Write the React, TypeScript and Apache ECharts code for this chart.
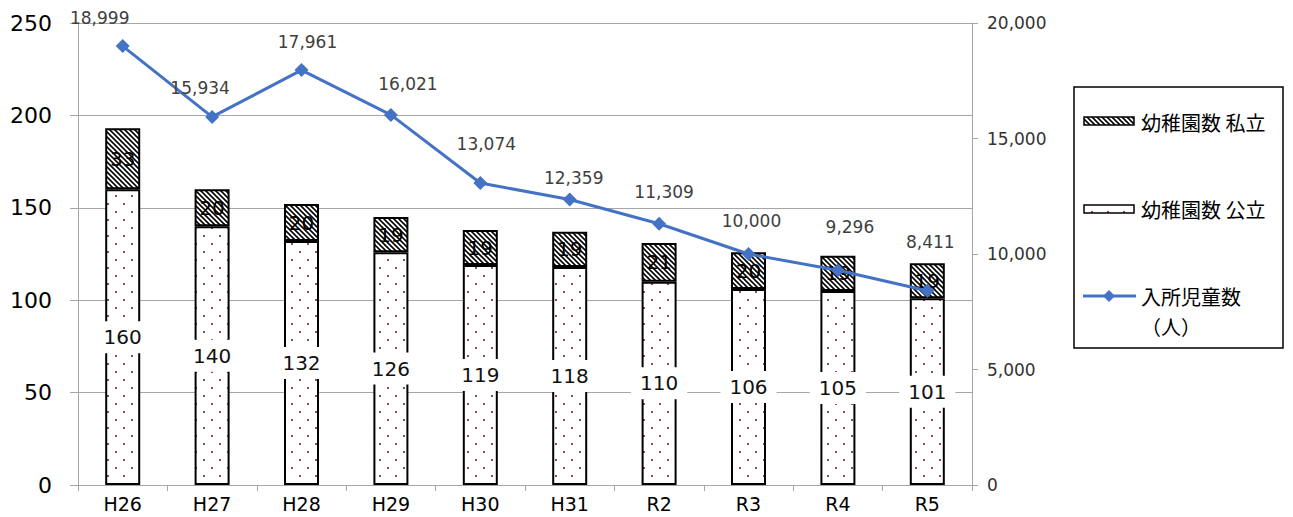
import React, { useEffect, useRef } from "react";
import * as echarts from "echarts";

const categories = ["H26", "H27", "H28", "H29", "H30", "H31", "R2", "R3", "R4", "R5"];
const publicCounts = [160, 140, 132, 126, 119, 118, 110, 106, 105, 101];
const privateCounts = [33, 20, 20, 19, 19, 19, 21, 20, 19, 19];
const childrenCounts = [18999, 15934, 17961, 16021, 13074, 12359, 11309, 10000, 9296, 8411];

// label nudges (px) for the line's value labels, as placed in the reference
const lineLabelNudges = [
  [-23, 0], [-12, 0], [6, 0], [17, -2], [6, -11], [4, 7], [5, -3], [3, -5], [12, -15], [3, -20],
];

const leftMax = 250;
const leftInterval = 50;
const rightMax = 20000;
const rightInterval = 5000;

const namePublic = "幼稚園数 公立";
const namePrivate = "幼稚園数 私立";
const nameChildren = "入所児童数（人）";
const legendChildrenLine1 = "入所児童数";
const legendChildrenLine2 = "（人）";

const FONT = '"DejaVu Sans", "Noto Sans CJK JP", sans-serif';
const CJK = '"Noto Sans CJK JP", "DejaVu Sans", sans-serif';
const BLUE = "#4472C4";
const GRID = "#A6A6A6";

function hatchPattern() {
  const s = 5;
  const c = document.createElement("canvas");
  c.width = s;
  c.height = s;
  const g = c.getContext("2d")!;
  g.fillStyle = "#fff";
  g.fillRect(0, 0, s, s);
  g.strokeStyle = "#000";
  g.lineWidth = 1.6;
  for (const off of [-s, 0, s]) {
    g.beginPath();
    g.moveTo(off - 1, -1);
    g.lineTo(off + s + 1, s + 1);
    g.stroke();
  }
  return { image: c.toDataURL(), repeat: "repeat", imageWidth: s, imageHeight: s };
}

function dotPattern() {
  const s = 16;
  const c = document.createElement("canvas");
  c.width = s;
  c.height = s;
  const g = c.getContext("2d")!;
  g.fillStyle = "#fff";
  g.fillRect(0, 0, s, s);
  g.fillStyle = "#A33A6E";
  g.fillRect(3, 3, 2, 2);
  g.fillRect(11, 11, 2, 2);
  return { image: c.toDataURL(), repeat: "repeat", imageWidth: s, imageHeight: s };
}

const fmt = (v: number) => v.toLocaleString("en-US");

export default function App() {
  const ref = useRef<HTMLDivElement>(null);
  useEffect(() => {
    if (!ref.current) return;
    const chart = echarts.init(ref.current, null, { renderer: "svg" });
    const hatch = hatchPattern();
    const dots = dotPattern();
    const legendText = (text: string, y: number) => ({
      type: "text",
      x: 1141,
      y,
      style: { text, font: `20px ${CJK}`, fill: "#000", verticalAlign: "middle", align: "left" },
      z: 11,
    });
    const option: any = {
      animation: false,
      backgroundColor: "#fff",
      grid: { left: 78, right: 321, top: 23, bottom: 32, containLabel: false, outerBoundsMode: "none" },
      xAxis: {
        type: "category",
        data: categories,
        axisLine: { show: true, lineStyle: { color: GRID, width: 1 } },
        axisTick: { show: true, length: 6, lineStyle: { color: GRID } },
        axisLabel: { fontSize: 19, color: "#000", margin: 9, fontFamily: FONT },
      },
      yAxis: [
        {
          type: "value",
          min: 0,
          max: leftMax,
          interval: leftInterval,
          position: "left",
          axisLine: { show: true, lineStyle: { color: GRID, width: 1 } },
          axisTick: { show: true, length: 8, lineStyle: { color: GRID } },
          splitLine: { show: true, lineStyle: { color: GRID, width: 1 } },
          axisLabel: { fontSize: 22, color: "#000", margin: 26, fontFamily: FONT },
        },
        {
          type: "value",
          min: 0,
          max: rightMax,
          interval: rightInterval,
          position: "right",
          axisLine: { show: true, lineStyle: { color: GRID, width: 1 } },
          axisTick: { show: true, length: 6, lineStyle: { color: GRID } },
          splitLine: { show: false },
          axisLabel: {
            fontSize: 17,
            color: "#333",
            margin: 15,
            fontFamily: FONT,
            formatter: (v: number) => fmt(v),
          },
        },
      ],
      series: [
        {
          name: namePublic,
          type: "bar",
          stack: "k",
          barWidth: 35,
          data: publicCounts,
          itemStyle: { color: dots, borderColor: "#000", borderWidth: 2 },
          label: {
            show: true,
            position: "inside",
            fontSize: 20,
            color: "#111",
            fontFamily: FONT,
            backgroundColor: "#fff",
            padding: [6, 9],
          },
          z: 2,
        },
        {
          name: namePrivate,
          type: "bar",
          stack: "k",
          barWidth: 35,
          data: privateCounts,
          itemStyle: { color: hatch, borderColor: "#000", borderWidth: 2 },
          label: {
            show: true,
            position: "inside",
            fontSize: 20,
            color: "#000",
            fontFamily: FONT,
          },
          z: 2,
        },
        {
          name: nameChildren,
          type: "line",
          yAxisIndex: 1,
          data: childrenCounts.map((v, i) => ({
            value: v,
            label: { offset: lineLabelNudges[i] },
          })),
          symbol: "diamond",
          symbolSize: 14,
          lineStyle: { color: BLUE, width: 3 },
          itemStyle: { color: BLUE },
          label: {
            show: true,
            position: "top",
            distance: 13,
            fontSize: 17,
            color: "#404040",
            fontFamily: FONT,
            formatter: (p: any) => fmt(p.value),
          },
          z: 5,
        },
      ],
      graphic: [
        {
          type: "rect",
          shape: { x: 1074, y: 87, width: 209, height: 261 },
          style: { fill: "#fff", stroke: "#000", lineWidth: 1.5 },
          z: 10,
        },
        {
          type: "rect",
          shape: { x: 1084, y: 117, width: 50, height: 8 },
          style: { fill: hatch, stroke: "#000", lineWidth: 1.5 },
          z: 11,
        },
        legendText(namePrivate, 122),
        {
          type: "rect",
          shape: { x: 1084, y: 205, width: 50, height: 8 },
          style: { fill: dots, stroke: "#000", lineWidth: 1.5 },
          z: 11,
        },
        legendText(namePublic, 209),
        {
          type: "line",
          shape: { x1: 1083, y1: 296, x2: 1136, y2: 296 },
          style: { stroke: BLUE, lineWidth: 3 },
          z: 11,
        },
        {
          type: "polygon",
          shape: { points: [[1109, 290], [1115, 296], [1109, 302], [1103, 296]] },
          style: { fill: BLUE },
          z: 12,
        },
        legendText(legendChildrenLine1, 296),
        legendText(legendChildrenLine2, 326),
      ],
    };
    chart.setOption(option);
    return () => chart.dispose();
  }, []);
  return (
    <div
      ref={ref}
      style={{ position: "fixed", left: 0, top: 0, width: 1293, height: 517, background: "#fff" }}
    />
  );
}
